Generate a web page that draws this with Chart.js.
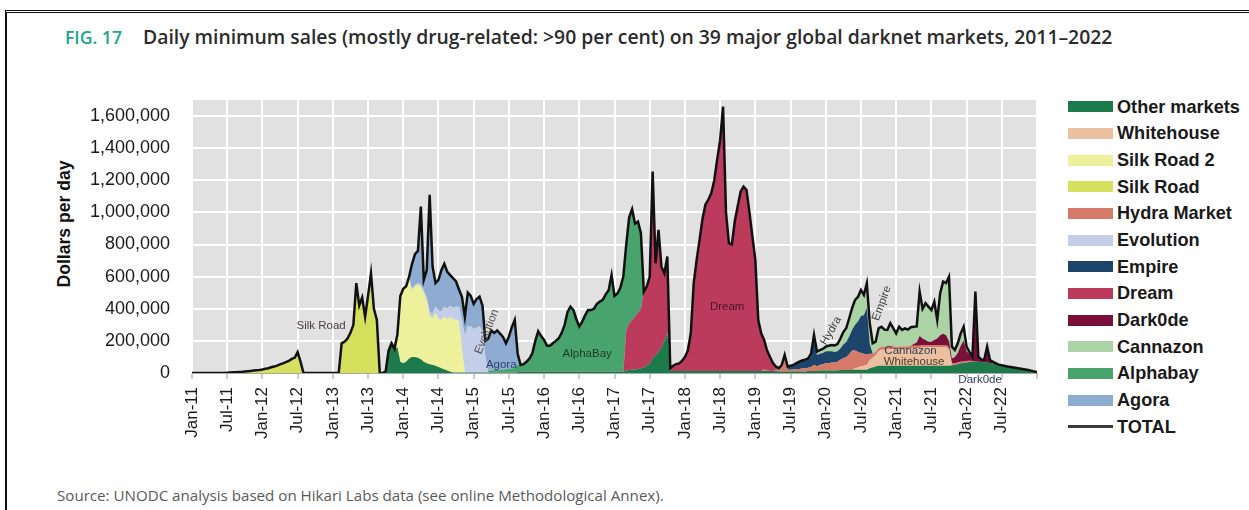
<!DOCTYPE html>
<html><head><meta charset="utf-8">
<script src="https://cdn.jsdelivr.net/npm/chart.js@4.4.1/dist/chart.umd.min.js"></script>
<style>
html,body{margin:0;padding:0;background:#fff;}
body{width:1249px;height:510px;position:relative;overflow:hidden;font-family:'Liberation Sans',Arial,sans-serif;}
#frame{position:absolute;left:5px;top:10px;width:1260px;height:520px;border-top:3px double #111;border-left:2px solid #111;box-sizing:border-box;}
.ttl{position:absolute;top:25px;white-space:nowrap;font-family:'Open Sans',sans-serif;font-weight:600;font-size:19px;line-height:24px;color:#2b2b2b;}
#fig{left:65px;color:#22a48b;}
#main{left:143px;}
#chartbox{position:absolute;left:40px;top:85px;width:1010px;height:380px;}
#ytitle{position:absolute;left:64px;top:223.5px;transform:translate(-50%,-50%) rotate(-90deg);font:bold 16px 'Liberation Sans',Arial,sans-serif;color:#111;white-space:nowrap;}
#legend{position:absolute;left:1068px;top:0;}
.row{position:absolute;left:0;height:26px;white-space:nowrap;}
.box{position:absolute;left:0;top:7.5px;width:45px;height:11px;}
.lbl{position:absolute;left:49px;top:0;line-height:26px;font-weight:bold;font-size:18px;font-family:'Liberation Sans',Arial,sans-serif;color:#1a1a1a;}
#source{position:absolute;left:57px;top:486px;font-family:'Open Sans',sans-serif;font-size:14px;line-height:18px;color:#5a5a5a;white-space:nowrap;}
</style></head>
<body>
<div id="frame"></div>
<div class="ttl" id="fig">FIG. 17</div>
<div class="ttl" id="main">Daily minimum sales (mostly drug-related: &gt;90 per cent) on 39 major global darknet markets, 2011–2022</div>
<div id="ytitle">Dollars per day</div>
<div id="chartbox"><canvas id="c" width="1010" height="380"></canvas></div>
<div id="legend"></div>
<div id="source">Source: UNODC analysis based on Hikari Labs data (see online Methodological Annex).</div>
<script>
// ---- DATA (thousands of US$ per day, half-month steps from Jan-11 to Jan-23) ----
const tickLabels = ['Jan-11','Jul-11','Jan-12','Jul-12','Jan-13','Jul-13','Jan-14','Jul-14','Jan-15','Jul-15','Jan-16','Jul-16','Jan-17','Jul-17','Jan-18','Jul-18','Jan-19','Jul-19','Jan-20','Jul-20','Jan-21','Jul-21','Jan-22','Jul-22'];
const yTickValues = [0,200000,400000,600000,800000,1000000,1200000,1400000,1600000];
const pointCount = 289;

const otherMarketsStart = 66;
const otherMarkets = [10,140,185,150,160,70,60,70,90,100,100,95,85,70,60,55,50,45,38,30,22,15,8,
 3,3,3,3,3,3,3,3,3,3,3,3,3,3,3,3,3,3,3,3,3,3,
 5,
 8,8,8,8,8,8,8,8,8,8,8,8,8,8,8,8,8,8,8,8,8,8,8,8,8,8,8,8,8,8,8,8,8,8,8,8,
 15,18,20,22,25,30,35,45,60,90,110,130,160,200,250,
 12,12,12,12,12,12,12,12,12,12,12,12,12,12,12,12,12,12,12,12,12,12,12,12,12,12,12,12,12,12,12,12,12,12,12,12,12,
 10,10,10,10,10,10,10,10,10,10,
 12,12,12,12,
 15,15,15,15,15,15,15,
 18,18,18,18,
 20,20,20,20,20,20,
 30,35,40,
 45,45,45,45,45,45,45,45,45,45,45,45,45,45,45,45,45,45,45,45,45,45,45,45,
 45,48,50,55,60,62,65,68,70,72,70,68,66,64,62,60,56,52,48,44,40,37,34,31,28,25,22,19,15,10,6];
const whitehouseStart = 226;
const whitehouse = [10,15,20,25,30,50,60,70,90,100,100,100,105,105,100,105,105,105,105,110,110,110,110,115,115,115,115,115,115,115,115,115,100];
const silkRoad2Start = 70;
const silkRoad2 = [80,410,465,465,495,417,438,453,453,427,390,300,290,330,300,300,330,320,340,330,330,320,150,0];
const silkRoadStart = 12;
const silkRoad = [2,3,4,5,6,7,9,11,13,15,17,19,22,26,30,36,40,46,54,60,68,75,88,95,130,70,0,
 0,0,0,0,0,0,0,0,0,0,0,0,
 185,195,215,250,300,560,420,470,350,480,620,400,330,0];
const hydraStart = 195;
const hydra = [10,5,0,0,8,
 10,25,80,10,10,12,15,15,18,20,
 20,25,40,30,
 35,40,45,45,50,50,55,
 65,75,80,100,
 120,110,95,85,75,65,
 40,25,20,
 20,20,20,20,20,20,
 15,15,15,15,15,15,15,15,15,15,15,15,15,15,15,15,15,15,15,
 12,10,10,10,10,10,8,5];
const evolutionStart = 74;
const evolution = [5,8,10,12,15,18,20,25,30,40,50,55,60,65,70,75,80,90,180,230,290,290,270,280,290,260,100,0];
const empireStart = 200;
const empire = [10,15,22,20,25,28,35,40,45,48,52,65,150,70,70,70,75,75,70,65,65,70,85,95,110,130,160,190,230,240,290,60,0];
const dreamStart = 148;
const dream = [250,290,310,330,350,370,470,493,540,1164,573,761,502,420,475,
 18,33,43,48,63,88,128,235,548,692,818,948,1038,1068,1108,1188,1318,1438,1647,988,796,788,933,1028,1118,1149,1128,988,838,692,318,235,184,123,88,50,20];
const dark0deStart = 246;
const dark0de = [10,20,60,40,30,20,20,30,40,60,70,60,40,30,40,60,100,130,60,40,27,435,32,17,15,100,18,10,4,0];
const cannazonStart = 206;
const cannazon = [2,5,5,5,7,18,35,21,
 23,25,29,35,39,42,45,
 62,77,87,113,
 135,155,155,162,126,154,
 130,65,65,
 123,123,105,103,140,110,
 87,123,103,113,105,115,108,100,277,185,229,218,197,239,115,262,324,325,400,
 74,43,60,77,86,29,14,0];
const alphabayStart = 96;
const alphabay = [3,4,5,6,8,10,12,14,15,16,18,20,22,25,28,50,
 42,47,62,82,115,192,252,222,198,162,162,177,192,208,242,292,372,405,384,327,282,312,352,384,384,392,422,437,447,482,507,602,472,487,522,592,
 535,662,690,578,568,470,0];
const agoraStart = 73;
const agora = [5,10,155,192,200,483,65,170,729,292,145,192,255,268,230,192,182,157,107,142,117,207,187,154,173,177,151,89,202,250,233,247,226,204,162,201,257,299,65,0];

// ---- build ----
function toSeries(start, vals){
  const out = new Array(pointCount).fill(0);
  vals.forEach((v,k)=>{ out[start+k] = v*1000; });
  return out;
}
const categories = [];
for (let i=0;i<pointCount;i++){ categories.push(String(2011+Math.floor(i/24))+'-'+(Math.floor((i%24)/2)+1)+(i%2?'b':'a')); }

const layers = [
  ['Other markets', otherMarketsStart, otherMarkets, '#1d7a4a'],
  ['Whitehouse', whitehouseStart, whitehouse, '#ebc0a0'],
  ['Silk Road 2', silkRoad2Start, silkRoad2, '#eef19c'],
  ['Silk Road', silkRoadStart, silkRoad, '#d5e15c'],
  ['Hydra Market', hydraStart, hydra, '#d57a68'],
  ['Evolution', evolutionStart, evolution, '#c5cee8'],
  ['Empire', empireStart, empire, '#1d446b'],
  ['Dream', dreamStart, dream, '#bc3b5c'],
  ['Dark0de', dark0deStart, dark0de, '#7a0f3a'],
  ['Cannazon', cannazonStart, cannazon, '#abd3a6'],
  ['Alphabay', alphabayStart, alphabay, '#48a36c'],
  ['Agora', agoraStart, agora, '#8eabd1']
];
const datasets = layers.map(([label,start,vals,color],k)=>({
  label, data: toSeries(start, vals), backgroundColor: color, borderColor: color,
  borderWidth: 0, fill: k===0 ? 'origin' : '-1', pointRadius: 0, tension: 0, stack: 'markets', order: 1
}));
const totalData = new Array(pointCount).fill(0).map((_,i)=>datasets.reduce((s,d)=>s+d.data[i],0));
datasets.push({label:'TOTAL', data: totalData, borderColor:'#111', backgroundColor:'#111', borderWidth: 2.5,
  fill:false, pointRadius:0, tension:0, stack:'total', order:0});

const notes = [
  {text:'Silk Road', at:44, value:293000, color:'#4b3f3f', angle:0},
  {text:'Evolution', at:100.5, value:257000, color:'#555555', angle:-68},
  {text:'Agora', at:105.4, value:50000, color:'#2e4470', angle:0},
  {text:'AlphaBay', at:134.7, value:118000, color:'#1d3a28', angle:0},
  {text:'Dream', at:182.4, value:411000, color:'#4a1424', angle:0},
  {text:'Hydra', at:217.8, value:263000, color:'#444444', angle:-60},
  {text:'Empire', at:235.1, value:434000, color:'#444444', angle:-70},
  {text:'Cannazon', at:244.9, value:137000, color:'#2f3d4f', angle:0},
  {text:'Whitehouse', at:246.1, value:68500, color:'#4d3b2b', angle:0},
  {text:'Dark0de', at:268.6, value:-43600, color:'#2f3b63', angle:0}
];

const bgPlugin = { id:'bg', beforeDraw(chart){ const {ctx, chartArea:a} = chart; ctx.save(); ctx.fillStyle='#e1e1e1'; ctx.fillRect(a.left,a.top,a.right-a.left,a.bottom-a.top); ctx.restore(); } };
const notePlugin = { id:'notes', afterDraw(chart){
  const {ctx, scales:{x,y}} = chart;
  ctx.save();
  ctx.font = '11.5px "Liberation Sans", Arial, sans-serif';
  ctx.textAlign='center'; ctx.textBaseline='middle';
  notes.forEach(n=>{
    ctx.save();
    ctx.translate(x.getPixelForValue(n.at), y.getPixelForValue(n.value));
    ctx.rotate(n.angle*Math.PI/180);
    ctx.fillStyle = n.color; ctx.fillText(n.text,0,0);
    ctx.restore();
  });
  ctx.restore();
}};

const chart = new Chart(document.getElementById('c'), {
  type:'line',
  data:{ labels: categories, datasets },
  options:{
    responsive:false, animation:false, devicePixelRatio:1,
    layout:{ padding:{ top:15, right:13, left:0, bottom:0 } },
    plugins:{ legend:{display:false}, tooltip:{enabled:false} },
    scales:{
      x:{
        grid:{ color: c => (c.index%12===0 ? '#ffffff' : 'rgba(0,0,0,0)'), lineWidth:2, tickLength:6,
               tickColor: c => (c.index%12===0 ? '#9a9a9a' : 'rgba(0,0,0,0)'), tickWidth:1 },
        border:{ display:true, color:'#a8a8a8', width:1 },
        ticks:{ autoSkip:false, maxRotation:90, minRotation:90, padding:8, color:'#1a1a1a',
                font:{ family:'Liberation Sans', size:17 },
                callback:(v,i)=> (i%12===0 ? (tickLabels[i/12] || '') : '') },
        afterFit: s => { s.height = 92; s.paddingLeft = 0; s.paddingRight = 0; }
      },
      y:{
        stacked:true, min:0, max:1700000,
        afterBuildTicks: s => { s.ticks = yTickValues.map(v => ({ value: v })); },
        ticks:{ padding:22, color:'#1a1a1a', font:{ family:'Liberation Sans', size:18 },
                callback: v => Number(v).toLocaleString('en-US') },
        grid:{ color:'#ffffff', lineWidth:2, drawTicks:false },
        border:{ display:false },
        afterFit: s => { s.width = 152; s.paddingTop = 0; s.paddingBottom = 0; }
      }
    }
  },
  plugins:[bgPlugin, notePlugin]
});

// legend built from the chart's datasets
const leg = document.getElementById('legend');
chart.data.datasets.forEach((ds,k)=>{
  const row = document.createElement('div'); row.className='row';
  row.style.top = (106.7 - 13 + k*26.67)+'px';
  const box = document.createElement('span'); box.className='box';
  if (ds.label==='TOTAL'){ box.style.top='11.5px'; box.style.height='3px'; box.style.background='#3a3a3a'; }
  else box.style.background = ds.backgroundColor;
  const lbl = document.createElement('span'); lbl.className='lbl'; lbl.textContent = ds.label;
  row.appendChild(box); row.appendChild(lbl); leg.appendChild(row);
});

function fitWidth(el, w){
  const r = el.getBoundingClientRect().width;
  const fs = parseFloat(getComputedStyle(el).fontSize);
  if (r>0) el.style.fontSize = (fs*w/r)+'px';
}
fitWidth(document.getElementById('fig'), 57);
fitWidth(document.getElementById('main'), 970);
fitWidth(document.getElementById('source'), 607);
const yt = document.getElementById('ytitle');
(function(){ const r = yt.getBoundingClientRect().height; const fs = parseFloat(getComputedStyle(yt).fontSize); yt.style.fontSize = (fs*127/r)+'px'; })();
(function(){
  const lbls = leg.querySelectorAll('.lbl');
  const r = lbls[0].getBoundingClientRect().width;
  const fs = parseFloat(getComputedStyle(lbls[0]).fontSize);
  const nf = fs*123/r;
  lbls.forEach(l=>l.style.fontSize = nf+'px');
})();
</script>
</body></html>
